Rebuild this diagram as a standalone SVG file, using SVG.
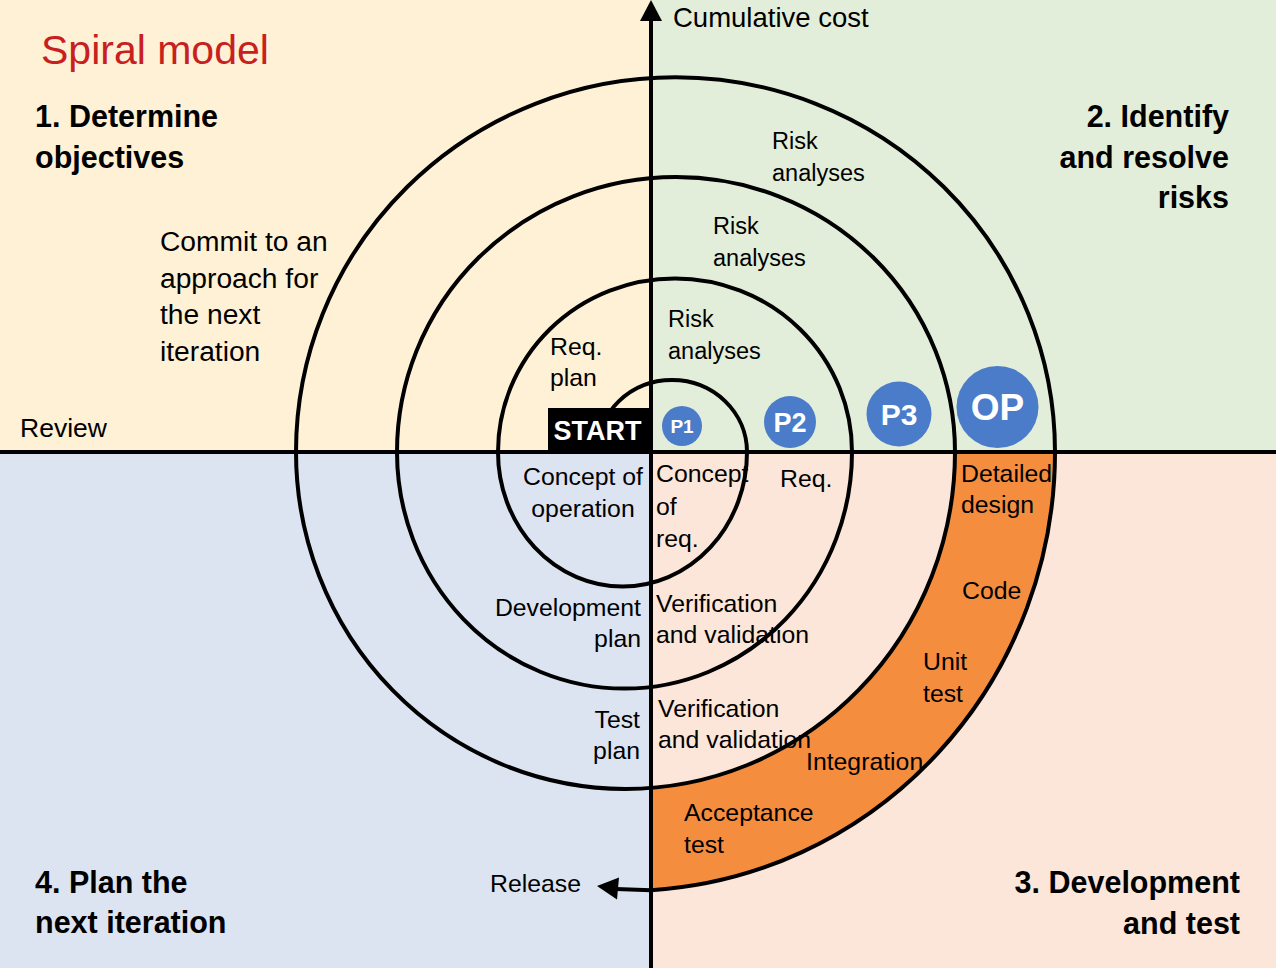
<svg xmlns="http://www.w3.org/2000/svg" width="1276" height="968" viewBox="0 0 1276 968">
<style>
.t{font-family:"Liberation Sans",Arial,sans-serif;font-size:24.8px;fill:#000}
.h{font-family:"Liberation Sans",Arial,sans-serif;font-size:30.5px;font-weight:bold;fill:#000}
.w{font-family:"Liberation Sans",Arial,sans-serif;font-weight:bold;fill:#fff;text-anchor:middle}
.line{fill:none;stroke:#000;stroke-width:4}
.bub{fill:#4A7CCA}
</style>
<g id="background">
<rect x="0" y="0" width="651" height="452" fill="#FEF1D6"/>
<rect x="651" y="0" width="625" height="452" fill="#E2EEDA"/>
<rect x="0" y="452" width="651" height="516" fill="#DCE4F2"/>
<rect x="651" y="452" width="625" height="516" fill="#FBE6D9"/>
<path d="M955,452 L1055,452 A430,439 0 0,1 651,890.2 L651,788 A329.5,337 0 0,0 955,452 Z" fill="#F58D3F"/>
</g>
<g id="connectors">
<path class="line" d="M597,452 A75,72 0 0,1 747,452 A124.5,134.6 0 0,1 498,452 A177,173.6 0 0,1 852,452 A227.5,236.6 0 0,1 397,452 A279,275 0 0,1 955,452 A329.5,337 0 0,1 296,452 A379.5,374.8 0 0,1 1055,452 A430,439 0 0,1 651,890.2 L616,889"/>
<polygon points="597,886 619,877.5 617,899.5" fill="#000"/>
<line class="line" x1="0" y1="452" x2="1276" y2="452"/>
<line class="line" x1="651" y1="968" x2="651" y2="18"/>
<polygon points="651,0 640,21 662,21" fill="#000"/>
</g>
<g id="title"><text x="41" y="64" style="font-family:'Liberation Sans',Arial,sans-serif;font-size:41px;fill:#C8201E">Spiral model</text></g>
<g id="axis-label"><text class="t" x="673" y="27" style="font-size:27.5px">Cumulative cost</text></g>
<g id="q1"><text class="h" x="35" y="127">1. Determine</text><text class="h" x="35" y="167.5">objectives</text></g>
<g id="q2"><text class="h" x="1229" y="127" text-anchor="end">2. Identify</text><text class="h" x="1229" y="167.5" text-anchor="end">and resolve</text><text class="h" x="1229" y="208" text-anchor="end">risks</text></g>
<g id="q3"><text class="h" x="1240" y="893" text-anchor="end">3. Development</text><text class="h" x="1240" y="934" text-anchor="end">and test</text></g>
<g id="q4"><text class="h" x="35" y="893">4. Plan the</text><text class="h" x="35" y="933">next iteration</text></g>
<g id="review"><text class="t" x="20" y="437" style="font-size:26.5px">Review</text></g>
<g id="commit"><text class="t" style="font-size:28.2px" x="160" y="251">Commit to an</text><text class="t" style="font-size:28.2px" x="160" y="287.5">approach for</text><text class="t" style="font-size:28.2px" x="160" y="324">the next</text><text class="t" style="font-size:28.2px" x="160" y="360.5">iteration</text></g>
<g id="req-plan"><text class="t" x="550" y="355">Req.</text><text class="t" x="550" y="386">plan</text></g>
<g id="risk1"><text class="t" x="668" y="326.5" style="font-size:23.5px">Risk</text><text class="t" x="668" y="359" style="font-size:23.5px">analyses</text></g>
<g id="risk2"><text class="t" x="713" y="233.5" style="font-size:23.5px">Risk</text><text class="t" x="713" y="266" style="font-size:23.5px">analyses</text></g>
<g id="risk3"><text class="t" x="772" y="148.5" style="font-size:23.5px">Risk</text><text class="t" x="772" y="181" style="font-size:23.5px">analyses</text></g>
<g id="concept-op"><text class="t" x="583" y="485" text-anchor="middle">Concept of</text><text class="t" x="583" y="517" text-anchor="middle">operation</text></g>
<g id="concept-req"><text class="t" x="656" y="482">Concept</text><text class="t" x="656" y="515">of</text><text class="t" x="656" y="547">req.</text></g>
<g id="req"><text class="t" x="780" y="487">Req.</text></g>
<g id="dev-plan"><text class="t" x="641" y="616" text-anchor="end">Development</text><text class="t" x="641" y="647" text-anchor="end">plan</text></g>
<g id="vv1"><text class="t" x="656" y="612">Verification</text><text class="t" x="656" y="643">and validation</text></g>
<g id="test-plan"><text class="t" x="640" y="728" text-anchor="end">Test</text><text class="t" x="640" y="759" text-anchor="end">plan</text></g>
<g id="vv2"><text class="t" x="658" y="717">Verification</text><text class="t" x="658" y="748">and validation</text></g>
<g id="detailed"><text class="t" x="961" y="482">Detailed</text><text class="t" x="961" y="513">design</text></g>
<g id="code"><text class="t" x="962" y="599">Code</text></g>
<g id="unit"><text class="t" x="923" y="670">Unit</text><text class="t" x="923" y="702">test</text></g>
<g id="integration"><text class="t" x="806" y="770">Integration</text></g>
<g id="acceptance"><text class="t" x="684" y="821">Acceptance</text><text class="t" x="684" y="853">test</text></g>
<g id="release"><text class="t" x="490" y="892">Release</text></g>
<g id="start"><rect x="548" y="408" width="103" height="44" fill="#000"/><text class="w" x="597.5" y="440" style="font-size:27px">START</text></g>
<g id="p1"><circle class="bub" cx="682" cy="426" r="20"/><text class="w" x="682" y="433" style="font-size:19px">P1</text></g>
<g id="p2"><circle class="bub" cx="790" cy="422" r="26"/><text class="w" x="790" y="431.5" style="font-size:27px">P2</text></g>
<g id="p3"><circle class="bub" cx="899" cy="414" r="32.5"/><text class="w" x="899" y="424.5" style="font-size:30px">P3</text></g>
<g id="op"><circle class="bub" cx="997.5" cy="407" r="41"/><text class="w" x="997.5" y="420" style="font-size:37px">OP</text></g>
</svg>
